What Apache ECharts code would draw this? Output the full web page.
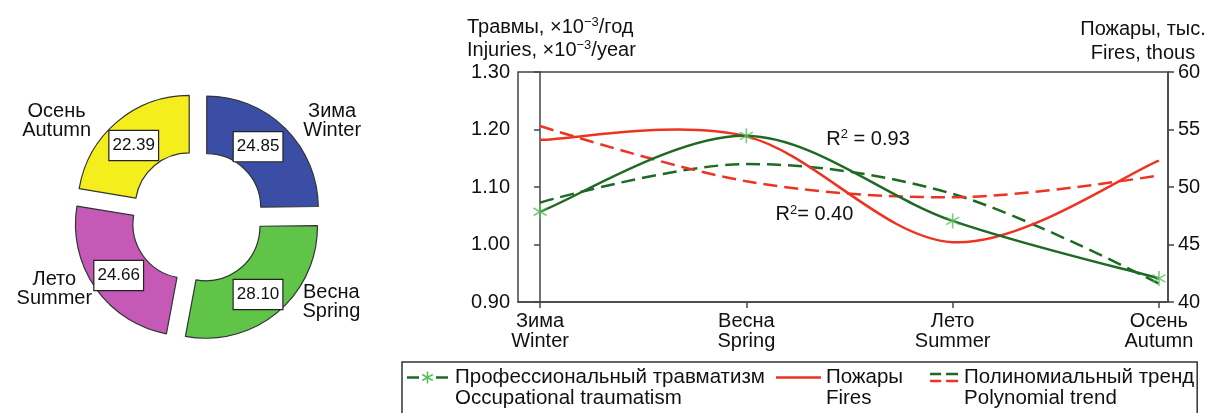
<!DOCTYPE html>
<html>
<head>
<meta charset="utf-8">
<script src="https://cdn.jsdelivr.net/npm/echarts@6/dist/echarts.min.js"></script>
<style>
  html, body { margin: 0; padding: 0; background: #fff; }
  #wrap { position: relative; width: 1210px; height: 413px; overflow: hidden; background: #fff; }
  #lines { position: absolute; left: 0; top: 0; width: 1210px; height: 413px; }
  #donut { position: absolute; left: 0; top: 0; width: 388px; height: 413px; }
</style>
</head>
<body>
<div id="wrap"><div id="lines"></div><div id="donut"></div></div>
<script>
// Seasons (Russian / English)
const seasonsRu = ['Зима', 'Весна', 'Лето', 'Осень'];
const seasonsEn = ['Winter', 'Spring', 'Summer', 'Autumn'];

// Share of occupational injuries by season, %
const injuryShare = [24.85, 28.10, 24.66, 22.39];

// Occupational injuries, x10^-3 per year
const injuries = [1.057, 1.189, 1.041, 0.941];
// Fires, thousands
const fires = [54.1, 54.4, 45.2, 52.3];
// Polynomial trends
const injuryTrend = [1.073, 1.140, 1.088, 0.932];
const fireTrend = [55.3, 50.5, 49.1, 51.0];
const rSquared = [0.93, 0.40];

// Axis ticks
const injuryTicks = [0.90, 1.00, 1.10, 1.20, 1.30];
const fireTicks = [40, 45, 50, 55, 60];

// Series names
const seriesRu = ['Профессиональный травматизм', 'Пожары', 'Полиномиальный тренд'];
const seriesEn = ['Occupational traumatism', 'Fires', 'Polynomial trend'];

const FONT = '"Liberation Sans", Arial, Helvetica, sans-serif';
const GREEN = '#1e6a24';
const STAR = '#5bbd5e';
const RED = '#ee3322';
const AXIS = '#444';
const TEXT = '#111';
const SMOOTH = 0.33;
const sliceColors = ['#3a4ea6', '#5fc448', '#c459b6', '#f4ee1c'];
// small nudges of the ring captions and value boxes
const captionShiftY = [-7, -11, 0, 0];
const valueShiftX = [-9, -3, 2, 0];
const valueShiftY = [0, 2, 2, 4];

const xs = seasonsRu.map((_, i) => i);
const pairs = arr => arr.map((v, i) => [i, v]);
const svgIcon = body => 'image://data:image/svg+xml;charset=utf-8,' + encodeURIComponent(
  '<svg xmlns="http://www.w3.org/2000/svg" width="45" height="42" viewBox="0 0 45 42">' + body + '</svg>');

const iconOcc = svgIcon(
  '<path d="M2 10.5H14M31 10.5H43" stroke="' + GREEN + '" stroke-width="2.5" fill="none"/>' +
  '<path d="M22.5 4.5V16.5M17.3 7.5L27.7 13.5M17.3 13.5L27.7 7.5" stroke="' + STAR + '" stroke-width="1.6" fill="none"/>');
const iconFire = svgIcon('<path d="M0 10.5H45" stroke="' + RED + '" stroke-width="2.5" fill="none"/>');
const iconTrend = svgIcon(
  '<path d="M16 7H27M32 7H44" stroke="' + GREEN + '" stroke-width="2.5" fill="none"/>' +
  '<path d="M16 14H27M32 14H44" stroke="' + RED + '" stroke-width="2.5" fill="none"/>');

const starPath = 'path://M10,0L10,20M1.34,5L18.66,15M1.34,15L18.66,5';

const supRich = {
  t: { fontSize: 20, lineHeight: 23, color: TEXT, fontFamily: FONT, fontWeight: 'normal' },
  s: { fontSize: 13, color: TEXT, fontFamily: FONT, fontWeight: 'normal', padding: [0, 0, 10, 0] }
};
const r2Label = (v, gap) => '{t|R}{s|2}{t|' + gap + '= ' + v.toFixed(2) + '}';

// Smoothed curve through the data points (cardinal spline, tension 1/6),
// drawn once per series from pixel positions given by the axes.
function curveSeries(name, values, yAxisIndex, color, dash, z) {
  return {
    name, type: 'custom', yAxisIndex, z, silent: true,
    data: pairs(values),
    encode: { x: 0, y: 1 },
    renderItem: (params, api) => {
      if (params.dataIndex !== 0) return null;
      const pts = values.map((v, i) => api.coord([i, v]));
      const n = pts.length;
      let d = 'M' + pts[0][0] + ' ' + pts[0][1];
      for (let i = 0; i < n - 1; i++) {
        const p0 = pts[Math.max(i - 1, 0)], p1 = pts[i], p2 = pts[i + 1], p3 = pts[Math.min(i + 2, n - 1)];
        const c1x = p1[0] + (p2[0] - p0[0]) / 6, c1y = p1[1] + (p2[1] - p0[1]) / 6;
        const c2x = p2[0] - (p3[0] - p1[0]) / 6, c2y = p2[1] - (p3[1] - p1[1]) / 6;
        d += ' C' + c1x + ' ' + c1y + ' ' + c2x + ' ' + c2y + ' ' + p2[0] + ' ' + p2[1];
      }
      return {
        type: 'path',
        shape: { pathData: d },
        style: { fill: 'none', stroke: color, lineWidth: 2.5, lineDash: dash || null }
      };
    }
  };
}

const lines = echarts.init(document.getElementById('lines'), null, { renderer: 'canvas' });
lines.setOption({
  animation: false,
  backgroundColor: '#fff',
  textStyle: { fontFamily: FONT },
  title: [
    {
      left: 462, top: 11,
      text: '{t|Травмы, ×10}{s|−3}{t|/год}\n{t|Injuries, ×10}{s|−3}{t|/year}',
      textStyle: { rich: supRich }
    },
    {
      left: 1138, top: 12, textAlign: 'center',
      text: 'Пожары, тыс.\nFires, thous',
      textStyle: { fontSize: 20, lineHeight: 24, fontWeight: 'normal', color: TEXT, fontFamily: FONT }
    }
  ],
  grid: {
    left: 518, right: 42, top: 72, bottom: 111,
    show: true, borderColor: AXIS, borderWidth: 1.5, backgroundColor: 'transparent',
    outerBoundsMode: 'none'
  },
  legend: {
    left: 402, top: 362, width: 805,
    orient: 'horizontal',
    itemWidth: 45, itemHeight: 42, itemGap: 11,
    padding: [5, 3, 10, 3],
    borderColor: '#333', borderWidth: 1.5,
    selectedMode: false,
    data: [
      { name: seriesRu[0], icon: iconOcc },
      { name: seriesRu[1], icon: iconFire },
      { name: seriesRu[2], icon: iconTrend }
    ],
    formatter: n => n + '\n' + seriesEn[seriesRu.indexOf(n)],
    textStyle: { fontSize: 20.5, lineHeight: 21, color: TEXT, fontFamily: FONT }
  },
  xAxis: {
    type: 'value',
    min: -0.107, max: 3.044,
    axisLine: { show: true, lineStyle: { color: AXIS, width: 1.5 } },
    axisTick: { show: true, customValues: xs, length: 6, lineStyle: { color: AXIS, width: 1.5 } },
    axisLabel: {
      customValues: xs,
      formatter: v => seasonsRu[v] + '\n' + seasonsEn[v],
      fontSize: 20, lineHeight: 20, color: TEXT, margin: 9, fontFamily: FONT
    },
    splitLine: { show: false }
  },
  yAxis: [
    {
      type: 'value', position: 'left',
      min: injuryTicks[0], max: injuryTicks[injuryTicks.length - 1],
      interval: +(injuryTicks[1] - injuryTicks[0]).toFixed(2),
      axisLine: { show: true, lineStyle: { color: AXIS, width: 1.5 } },
      axisTick: { show: true, length: 6, lineStyle: { color: AXIS, width: 1.5 } },
      axisLabel: { formatter: v => v.toFixed(2), fontSize: 20, color: TEXT, margin: 8, fontFamily: FONT },
      splitLine: { show: false }
    },
    {
      type: 'value', position: 'right',
      min: fireTicks[0], max: fireTicks[fireTicks.length - 1],
      interval: fireTicks[1] - fireTicks[0],
      axisLine: { show: true, lineStyle: { color: AXIS, width: 1.5 } },
      axisTick: { show: true, length: 6, lineStyle: { color: AXIS, width: 1.5 } },
      axisLabel: { fontSize: 20, color: TEXT, margin: 10, fontFamily: FONT, padding: [8, 0, 0, 0] },
      splitLine: { show: false }
    }
  ],
  series: [
    {
      name: seriesRu[2], type: 'line', yAxisIndex: 0, smooth: SMOOTH, symbol: 'none',
      data: pairs(injuryTrend),
      lineStyle: { color: GREEN, width: 2.5, type: [14, 7] },
      itemStyle: { color: GREEN },
      z: 2,
      markPoint: {
        silent: true, symbol: 'circle', symbolSize: 1,
        itemStyle: { color: 'rgba(0,0,0,0)' },
        label: { show: true, position: 'inside', formatter: r2Label(rSquared[0], ' '), rich: supRich },
        data: [{ coord: [1.59, 1.182] }]
      }
    },
    {
      name: seriesRu[2], type: 'line', yAxisIndex: 1, smooth: SMOOTH, symbol: 'none',
      data: pairs(fireTrend),
      lineStyle: { color: RED, width: 2.5, type: [14, 7] },
      itemStyle: { color: RED },
      z: 2,
      markPoint: {
        silent: true, symbol: 'circle', symbolSize: 1,
        itemStyle: { color: 'rgba(0,0,0,0)' },
        label: { show: true, position: 'inside', formatter: r2Label(rSquared[1], ''), rich: supRich },
        data: [{ coord: [1.33, 47.57] }]
      }
    },
    curveSeries(seriesRu[1], fires, 1, RED, null, 3),
    curveSeries(seriesRu[0], injuries, 0, GREEN, null, 4),
    {
      name: seriesRu[0], type: 'scatter', yAxisIndex: 0,
      data: pairs(injuries),
      symbol: starPath, symbolSize: 15, symbolKeepAspect: true,
      itemStyle: { color: STAR, borderColor: STAR, borderWidth: 1.6 },
      silent: true,
      z: 5
    }
  ]
});

const donut = echarts.init(document.getElementById('donut'), null, { renderer: 'canvas' });
const pieBase = {
  type: 'pie',
  radius: [54, 111.5],
  center: [197.6, 216.8],
  startAngle: 90,
  clockwise: true,
  selectedMode: 'multiple',
  selectedOffset: 13,
  avoidLabelOverlap: false,
  emphasis: { disabled: true }
};
donut.setOption({
  animation: false,
  textStyle: { fontFamily: FONT },
  series: [
    Object.assign({}, pieBase, {
      itemStyle: { borderColor: '#333', borderWidth: 1.2 },
      select: { itemStyle: { borderColor: '#333', borderWidth: 1.2 } },
      label: {
        show: true, position: 'inside',
        formatter: p => p.value.toFixed(2),
        backgroundColor: '#fff', borderColor: '#222', borderWidth: 1.2,
        padding: [5, 3, 4, 3], fontSize: 17, lineHeight: 20, color: TEXT, fontFamily: FONT
      },
      labelLine: { show: false },
      labelLayout: p => ({ dx: valueShiftX[p.dataIndex], dy: valueShiftY[p.dataIndex] }),
      data: injuryShare.map((v, i) => ({
        value: v, name: seasonsRu[i], selected: true, itemStyle: { color: sliceColors[i] }
      }))
    }),
    Object.assign({}, pieBase, {
      silent: true,
      itemStyle: { color: 'rgba(0,0,0,0)', borderWidth: 0 },
      select: { itemStyle: { color: 'rgba(0,0,0,0)', borderWidth: 0 } },
      label: {
        show: true, position: 'outside', alignTo: 'edge', edgeDistance: 29,
        formatter: p => '{n|' + p.name + '}\n{n|' + seasonsEn[seasonsRu.indexOf(p.name)] + '}',
        rich: { n: { width: 72, align: 'center', fontSize: 20, lineHeight: 19, color: TEXT, fontFamily: FONT } }
      },
      labelLine: { show: false, length: 1, length2: 0 },
      labelLayout: p => ({ dy: captionShiftY[p.dataIndex] }),
      data: injuryShare.map((v, i) => ({ value: v, name: seasonsRu[i], selected: true }))
    })
  ]
});
</script>
</body>
</html>
